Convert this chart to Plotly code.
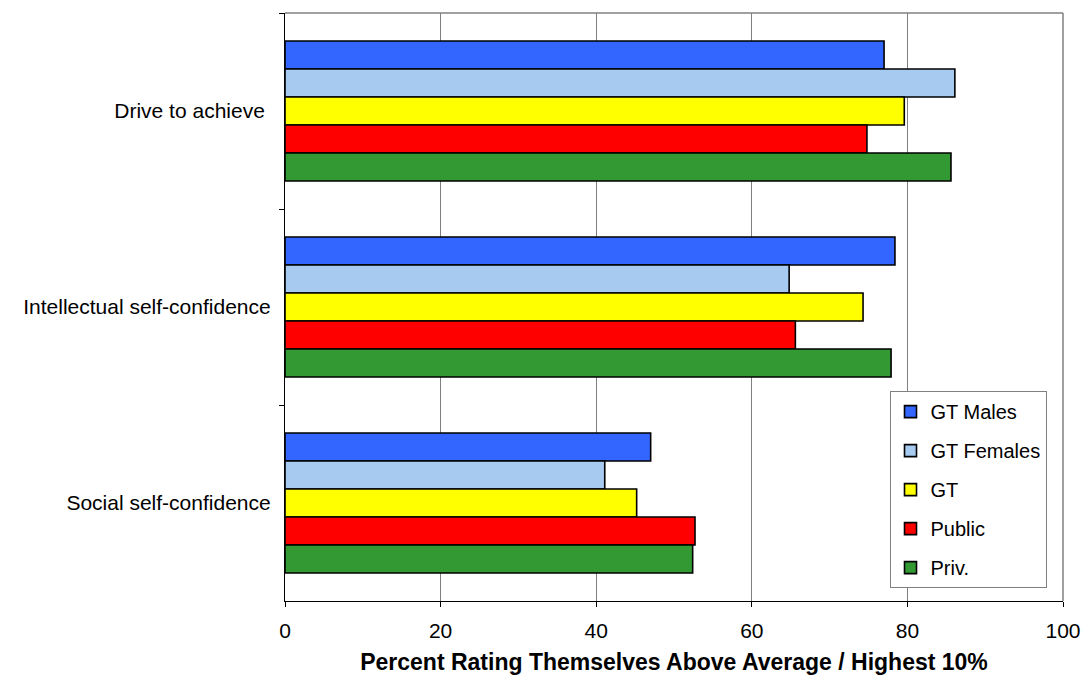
import plotly.graph_objects as go

# Survey categories (top to bottom)
categories = ["Drive to achieve\u00a0", "Intellectual self-confidence", "Social self-confidence"]

# Percent rating themselves above average / highest 10%
series_names = ["GT Males", "GT Females", "GT", "Public", "Priv."]
gt_males = [77.0, 78.4, 47.0]
gt_females = [86.1, 64.8, 41.1]
gt_all = [79.6, 74.3, 45.2]
public = [74.8, 65.6, 52.7]
private = [85.6, 77.9, 52.4]

x_ticks = [0, 20, 40, 60, 80, 100]

series_values = [gt_males, gt_females, gt_all, public, private]
colors = ["#3366FF", "#A6CAF0", "#FFFF00", "#FF0000", "#339933"]

FONT = "Liberation Sans, Arial, sans-serif"

fig = go.Figure()
for i, (name, vals, col) in enumerate(zip(series_names, series_values, colors)):
    fig.add_trace(go.Bar(
        y=categories,
        x=vals,
        name=name,
        orientation="h",
        marker=dict(color=col, line=dict(color="#000000", width=1.6)),
        legendgroup=f"g{i}",
    ))

fig.update_layout(
    width=1083,
    height=677,
    margin=dict(l=285, r=20, t=13, b=76, autoexpand=False),
    paper_bgcolor="white",
    plot_bgcolor="white",
    barmode="group",
    bargap=0.286,
    bargroupgap=0,
    font=dict(family=FONT, color="#000000"),
    showlegend=True,
    legend=dict(
        x=0.777, y=0.357, xanchor="left", yanchor="top",
        bgcolor="white", bordercolor="#808080", borderwidth=1,
        font=dict(size=20, family=FONT, color="#000000"),
        traceorder="grouped",
        tracegroupgap=10,
        itemclick=False,
    ),
    xaxis=dict(
        range=[0, 100],
        tickvals=x_ticks,
        ticktext=[str(v) for v in x_ticks],
        showgrid=True, gridcolor="#808080", gridwidth=1,
        zeroline=False,
        showline=True, linecolor="#000000", linewidth=1.2,
        mirror=False,
        ticks="outside", ticklen=5, tickcolor="#000000",
        ticklabelstandoff=6,
        tickfont=dict(size=21, family=FONT),
        title=dict(
            text="<b>Percent Rating Themselves Above Average / Highest 10%</b>",
            font=dict(size=23, family=FONT),
            standoff=12,
        ),
    ),
    yaxis=dict(
        autorange="reversed",
        type="category",
        showgrid=False,
        zeroline=False,
        showline=True, linecolor="#000000", linewidth=1.2,
        ticks="outside", ticklen=5, tickcolor="#000000",
        tickson="boundaries",
        ticklabelstandoff=9,
        tickfont=dict(size=21, family=FONT),
    ),
)

# Gray frame on top and right of the plot area
fig.add_shape(type="line", xref="paper", yref="paper", x0=0, x1=1, y0=1, y1=1,
              line=dict(color="#808080", width=1.5))
fig.add_shape(type="line", xref="paper", yref="paper", x0=1, x1=1, y0=0, y1=1,
              line=dict(color="#808080", width=1.5))

fig.write_html("out.html")
